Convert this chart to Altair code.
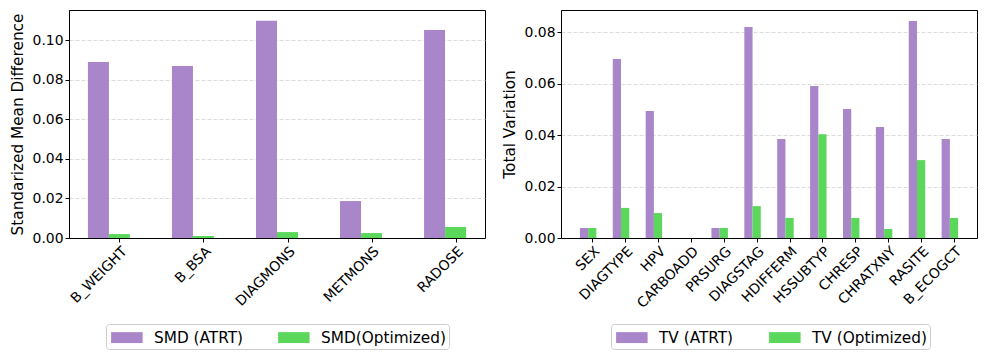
import json
import altair as alt
import pandas as pd

# ---- data ----
smd_vars = ["B_WEIGHT", "B_BSA", "DIAGMONS", "METMONS", "RADOSE"]
smd_atrt = [0.0891, 0.0871, 0.1099, 0.0187, 0.1053]
smd_opt = [0.0020, 0.0010, 0.0030, 0.0025, 0.0056]
smd_series = ["SMD (ATRT)", "SMD(Optimized)"]

tv_vars = ["SEX", "DIAGTYPE", "HPV", "CARBOADD", "PRSURG", "DIAGSTAG",
           "HDIFFERM", "HSSUBTYP", "CHRESP", "CHRATXNY", "RASITE", "B_ECOGCT"]
tv_atrt = [0.0039, 0.0696, 0.0494, 0.0, 0.0039, 0.0821,
           0.0385, 0.0591, 0.0502, 0.0432, 0.0844, 0.0385]
tv_opt = [0.0039, 0.0117, 0.0097, 0.0, 0.0039, 0.0124,
          0.0078, 0.0404, 0.0078, 0.0035, 0.0303, 0.0078]
tv_series = ["TV (ATRT)", "TV (Optimized)"]

PURPLE = "#a985ca"
GREEN = "#5bd75b"
FONT = "DejaVu Sans"
FS_TICK = 13.9
FS_TITLE = 15.3
BAR_W = 0.25
RECT = "M-0.8,-0.52H2.2V0.52H-0.8Z"


def make_df(names, a, o, series):
    rows = []
    for i, n in enumerate(names):
        for s, v, off in ((series[0], a[i], -BAR_W), (series[1], o[i], 0.0)):
            c = i + off
            rows.append({"var": n, "idx": i, "series": s, "value": v,
                         "x0": c - BAR_W / 2, "x1": c + BAR_W / 2})
    return pd.DataFrame(rows)


def panel(names, a, o, series, ytitle, ymax, yticks, legend_x):
    n = len(names)
    lo = -1.5 * BAR_W
    hi = (n - 1) + 0.5 * BAR_W
    m = 0.05 * (hi - lo)
    df = make_df(names, a, o, series)
    return alt.Chart(df).mark_bar(strokeWidth=0).encode(
        x=alt.X("x0:Q",
                scale=alt.Scale(domain=[lo - m, hi + m], nice=False, zero=False),
                axis=alt.Axis(values=list(range(n)),
                              labelExpr=f"{json.dumps(names)}[datum.value]",
                              labelAngle=-45, labelAlign="right",
                              labelBaseline="top", labelPadding=2,
                              labelOverlap=False, labelBound=False,
                              grid=False),
                title=None),
        x2="x1:Q",
        y=alt.Y("value:Q",
                scale=alt.Scale(domain=[0, ymax], nice=False, zero=True,
                                padding=0),
                axis=alt.Axis(values=yticks, format=".2f", grid=True,
                              gridDash=[4, 2], gridColor="#d3d3d3",
                              gridWidth=0.8, titlePadding=7),
                title=ytitle),
        y2=alt.datum(0),
        color=alt.Color("series:N",
                        scale=alt.Scale(domain=series, range=[PURPLE, GREEN]),
                        legend=alt.Legend(title=None, orient="none",
                                          legendX=legend_x, legendY=314,
                                          direction="horizontal",
                                          symbolType=RECT, symbolSize=441,
                                          symbolStrokeWidth=0,
                                          labelFontSize=FS_TITLE,
                                          labelFont=FONT,
                                          labelColor="black",
                                          labelOffset=24, columnPadding=33,
                                          padding=3, fillColor="white",
                                          strokeColor="#cccccc",
                                          cornerRadius=3)),
    ).properties(width=416, height=228)


left = panel(smd_vars, smd_atrt, smd_opt, smd_series,
             "Standarized Mean Difference", 0.1154,
             [0, 0.02, 0.04, 0.06, 0.08, 0.10], 37)
right = panel(tv_vars, tv_atrt, tv_opt, tv_series,
              "Total Variation", 0.0887,
              [0, 0.02, 0.04, 0.06, 0.08], 50)

chart = alt.hconcat(left, right, spacing=15).resolve_scale(
    color="independent"
).properties(
    padding={"top": 1, "left": 1, "right": 2, "bottom": 2}
).configure_view(
    stroke="black", strokeWidth=1
).configure_axis(
    labelFont=FONT, titleFont=FONT, labelFontSize=FS_TICK,
    titleFontSize=FS_TITLE,
    labelColor="black", titleColor="black", titleFontWeight="normal",
    domainColor="black", tickColor="black", tickSize=4, domainWidth=1,
    tickWidth=1
)

chart.save("out.html", embed_options={"renderer": "svg", "actions": False})
